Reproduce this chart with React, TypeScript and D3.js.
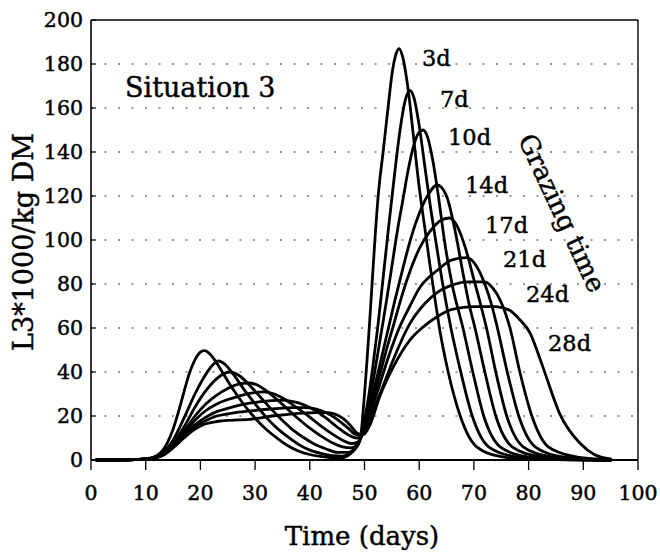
import React from 'react';
import * as d3 from 'd3';

const W = 660;
const H = 554;

const xTicks = [0, 10, 20, 30, 40, 50, 60, 70, 80, 90, 100];
const yTicks = [0, 20, 40, 60, 80, 100, 120, 140, 160, 180, 200];
const gridLevels = [20, 40, 60, 80, 100, 120, 140, 160, 180];

const grazingLabels = ['3d', '7d', '10d', '14d', '17d', '21d', '24d', '28d'];

const s3: [number, number][] = [
  [1, 0], [8, 0.2], [11, 1], [12, 2], [13, 4], [14, 8], [15, 14], [16, 22], [17, 31], [18, 39.5], [19, 45.5], [20, 49], [20.7, 49.7],
  [22, 47.5], [23, 44], [24, 40], [26, 32], [28, 25], [30, 19], [32, 14], [34, 10], [36, 6.5], [38, 4], [40, 2.5], [42, 1.6], [44, 1],
  [45.5, 0.8], [47, 2], [48.3, 5], [49.2, 9], [50, 30], [51, 65], [51.9, 100], [52.5, 120], [53.4, 140], [54.3, 160], [55, 175],
  [55.7, 184], [56.3, 187], [57, 183], [58, 168], [59, 146], [60, 124], [61, 106], [62, 88], [62.9, 73], [63.7, 60], [65.3, 40],
  [67.5, 20], [70.5, 6], [75, 1.5], [80, 0.3], [95, 0],
];
const s7: [number, number][] = [
  [1, 0], [8, 0.2], [11, 0.8], [13, 3], [15, 9], [17, 19], [19, 30], [21, 39], [22, 42.5], [23.3, 45], [24.5, 43.5], [26, 39], [28, 32],
  [30, 25.5], [32, 19.5], [34, 14.5], [36, 10.5], [38, 7], [40, 4.5], [42, 3], [44, 2], [46, 1.8], [47.5, 3.5], [49.2, 10], [50.5, 25],
  [51.5, 42], [52.5, 62], [53.5, 85], [54.5, 108], [55.5, 130], [56.5, 150], [57.5, 164], [58.3, 168], [59, 165], [60, 152], [61, 134],
  [62, 116], [63, 100], [64.3, 80], [65.8, 60], [67.6, 40], [69.7, 20], [72.7, 6], [77.5, 1.5], [83, 0.3], [95, 0],
];
const s10: [number, number][] = [
  [1, 0], [8, 0.2], [11, 0.7], [13, 2.5], [15, 7.5], [17, 15], [19, 24], [21, 31.5], [23, 37], [24.5, 39.5], [25.5, 40], [27, 38.5],
  [29, 34], [31, 28.5], [33, 23], [35, 18], [37, 13.5], [39, 10], [41, 7], [43, 5], [45, 3.5], [47, 3.5], [48.5, 6], [49.5, 12], [51, 28],
  [52, 42], [53, 57], [54, 72], [55, 88], [56, 104], [57, 118], [58, 132], [59, 143], [60, 149], [60.7, 150], [61.5, 147], [62.5, 136],
  [63.5, 120], [64.6, 100], [66, 80], [68, 60], [69.8, 40], [71.8, 20], [74.8, 6], [79.5, 1.5], [85, 0.3], [95, 0],
];
const s14: [number, number][] = [
  [1, 0], [8, 0.2], [11, 0.7], [13, 2.3], [15, 7], [17, 13], [19, 20], [21, 25.5], [23, 29.5], [25, 32.5], [27, 34.5], [28.8, 35],
  [30.5, 34], [32, 31.5], [34, 27.5], [36, 23], [38, 18.5], [40, 14.5], [42, 11], [44, 8], [46, 6], [47.5, 5.5], [48.7, 7], [49.5, 11],
  [51, 25], [52.5, 40], [54, 56], [55.5, 72], [57, 87], [58.5, 101], [60, 112], [61.5, 120], [63.3, 125], [65, 120], [66.5, 105],
  [68, 85], [69.2, 70], [70.2, 60], [72, 40], [74, 20], [77, 6], [82, 1.5], [87, 0.3], [95, 0],
];
const s17: [number, number][] = [
  [1, 0], [8, 0.2], [11, 0.7], [13, 2.2], [15, 6.5], [17, 12], [19, 18], [21, 22.5], [23, 25.5], [25, 27.5], [27, 29], [29, 30.3],
  [31.5, 31], [33.5, 30], [35.5, 27.5], [37.5, 24], [40, 19.5], [42, 15.5], [44, 12], [46, 9], [47.5, 7.5], [48.7, 8], [49.5, 11],
  [51, 23], [52.5, 36], [54, 50], [55.5, 63], [57, 76], [58.5, 87], [60, 96], [62, 104], [64, 109], [65.6, 110], [67, 106], [68.5, 96],
  [70, 82], [71.3, 70], [72.3, 60], [74, 40], [76, 20], [79, 6], [84, 1.5], [89, 0.3], [95, 0],
];
const s21: [number, number][] = [
  [1, 0], [8, 0.2], [11, 0.7], [13, 2], [15, 6], [17, 11], [19, 16], [21, 19.5], [23, 22], [25, 23.5], [27, 24.8], [29, 25.8], [31, 26.5],
  [33, 27], [35, 27.2], [37, 26.5], [39, 25], [41, 22.5], [43, 19], [45, 15], [47, 11.5], [48.5, 10], [49.5, 11], [51, 21], [52.5, 32],
  [54, 44], [56, 58], [58.3, 70], [60, 78], [63.2, 86], [66, 91], [68.7, 92], [70.5, 88], [72, 80], [73.3, 70], [74.3, 60], [76.1, 40],
  [78.2, 20], [81.2, 6], [86, 1.5], [91, 0.3], [95, 0],
];
const s24: [number, number][] = [
  [1, 0], [8, 0.2], [11, 0.7], [13, 2], [15, 5.8], [17, 10.5], [19, 15], [21, 18], [23, 20], [25, 21], [27, 21.8], [29, 22.3], [31, 22.8],
  [33, 23.2], [35, 23.6], [37, 23.8], [39, 23.8], [41, 23.2], [43, 21.5], [45, 18.5], [47, 14.5], [48.5, 11.5], [49.5, 11.5], [51, 19],
  [53, 31], [55, 44], [58.3, 62], [61, 71], [63.2, 76], [66, 79.5], [69, 81], [72, 81], [73.5, 78], [74.8, 72.7], [76.6, 60], [78.4, 40],
  [80.6, 20], [83.6, 6], [88.5, 1.5], [93, 0.3], [95, 0],
];
const s28: [number, number][] = [
  [1, 0], [8, 0.2], [11, 0.7], [13, 1.9], [15, 5.5], [17, 10], [19, 14], [21, 16.5], [23, 17.5], [25, 18], [27, 18.2], [29, 18.5],
  [31, 19.2], [33, 20], [35, 20.5], [37, 21], [39, 21.3], [41, 21.5], [43, 21.5], [44.5, 21], [46, 19], [47.5, 15.5], [48.8, 12],
  [49.8, 11.5], [51, 16], [52.8, 29], [55.2, 42], [58.3, 54.5], [60.5, 60], [63.2, 65], [66, 68.5], [70, 69.7], [74, 69.7], [76.6, 68],
  [78.3, 64], [80.3, 57.6], [81.8, 48], [83, 39.5], [85.7, 21], [89.4, 7.6], [92, 2.5], [95, 0.5],
];

const series = [s3, s7, s10, s14, s17, s21, s24, s28];

// layout of curve labels (pixel positions: left x, baseline y)
const labelLayout: [number, number][] = [
  [422, 66], [440, 107], [448, 145], [465, 193], [485, 233], [503, 267], [526, 302], [548, 351],
];

const FONT = "'DejaVu Serif', serif";
const TEXT_STROKE = { stroke: '#000', strokeWidth: 0.45 };

export default function App() {
  const x = d3.scaleLinear().domain([0, 100]).range([91, 638]);
  const y = d3.scaleLinear().domain([0, 200]).range([460, 20]);
  const line = d3
    .line<[number, number]>()
    .x((d) => x(d[0]))
    .y((d) => y(d[1]))
    .curve(d3.curveMonotoneX);

  return (
    <svg
      width={W}
      height={H}
      viewBox={`0 0 ${W} ${H}`}
      style={{ position: 'absolute', left: 0, top: 0, display: 'block', background: '#fff' }}
    >
      <rect x={0} y={0} width={W} height={H} fill="#fff" />
      {gridLevels.map((v) => (
        <line
          key={'g' + v}
          x1={x(0)}
          x2={x(100)}
          y1={y(v)}
          y2={y(v)}
          stroke="#333"
          strokeWidth={1.2}
          strokeDasharray="2 11.5"
        />
      ))}
      {yTicks.map((v) => (
        <line key={'yt' + v} x1={x(0)} x2={x(0) + 5} y1={y(v)} y2={y(v)} stroke="#000" strokeWidth={1.2} />
      ))}
      <line x1={x(0)} x2={x(0)} y1={y(200)} y2={y(0)} stroke="#000" strokeWidth={1.6} />
      <line x1={x(0)} x2={x(100)} y1={y(200)} y2={y(200)} stroke="#000" strokeWidth={1.4} />
      <line x1={x(100)} x2={x(100)} y1={y(200)} y2={y(0)} stroke="#000" strokeWidth={1.4} />
      <line x1={x(0)} x2={x(100)} y1={y(0)} y2={y(0)} stroke="#000" strokeWidth={2} />
      {xTicks.map((v) => (
        <line key={'xt' + v} x1={x(v)} x2={x(v)} y1={y(0)} y2={y(0) + 10} stroke="#000" strokeWidth={1.3} />
      ))}
      {xTicks.map((v) => (
        <text key={'xl' + v} x={x(v)} y={500} textAnchor="middle" fontFamily={FONT} fontSize={20.5} fill="#000" {...TEXT_STROKE}>
          {v}
        </text>
      ))}
      {yTicks.map((v) => (
        <text
          key={'yl' + v}
          x={83}
          y={y(v)}
          dy="0.36em"
          textAnchor="end"
          fontFamily={FONT}
          fontSize={20.5}
          fill="#000"
          {...TEXT_STROKE}
        >
          {v}
        </text>
      ))}
      {series.map((s, i) => (
        <path
          key={'s' + i}
          d={line(s) || ''}
          fill="none"
          stroke="#000"
          strokeWidth={2.8}
          strokeLinejoin="round"
          strokeLinecap="round"
        />
      ))}
      {grazingLabels.map((t, i) => (
        <text
          key={'lb' + t}
          x={labelLayout[i][0]}
          y={labelLayout[i][1]}
          fontFamily={FONT}
          fontSize={22.5}
          fill="#000"
          {...TEXT_STROKE}
        >
          {t}
        </text>
      ))}
      <text x={125} y={97} fontFamily={FONT} fontSize={27} fill="#000" {...TEXT_STROKE}>
        Situation 3
      </text>
      <text
        transform="translate(562,213) rotate(65)"
        textAnchor="middle"
        dominantBaseline="central"
        fontFamily={FONT}
        fontSize={26}
        fill="#000"
        {...TEXT_STROKE}
      >
        Grazing time
      </text>
      <text x={362} y={545} textAnchor="middle" fontFamily={FONT} fontSize={26} fill="#000" {...TEXT_STROKE}>
        Time (days)
      </text>
      <text
        transform="translate(33,242) rotate(-90)"
        textAnchor="middle"
        fontFamily={FONT}
        fontSize={27}
        fill="#000"
        {...TEXT_STROKE}
      >
        L3*1000/kg DM
      </text>
    </svg>
  );
}
